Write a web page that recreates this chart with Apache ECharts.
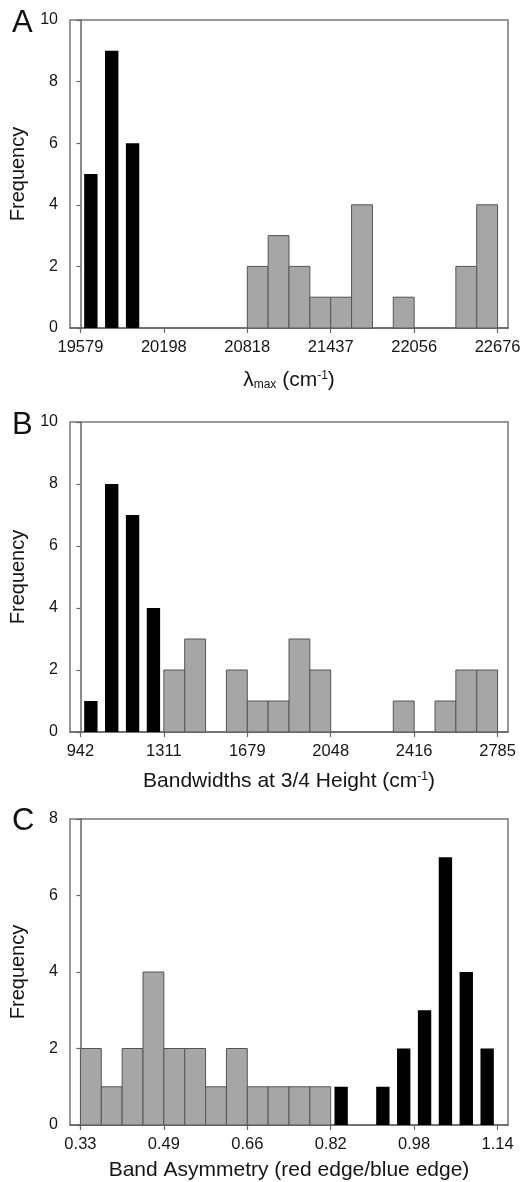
<!DOCTYPE html>
<html>
<head>
<meta charset="utf-8">
<script src="https://cdn.jsdelivr.net/npm/echarts@6/dist/echarts.min.js"></script>
<style>html,body{margin:0;padding:0;background:#fff}#c{width:528px;height:1182px}</style>
</head>
<body>
<div id="c"></div>
<script>
// Bin index 0..19 (20 bins per panel, 4 bins between labelled ticks)
var binsA = [0,1,2,3,4,5,6,7,8,9,10,11,12,13,14,15,16,17,18,19];
var darkA = [5,9,6,0,0,0,0,0,0,0,0,0,0,0,0,0,0,0,0,0];
var greyA = [0,0,0,0,0,0,0,0,2,3,2,1,1,4,0,1,0,0,2,4];
var ticksA = ['19579','20198','20818','21437','22056','22676'];

var darkB = [1,8,7,4,0,0,0,0,0,0,0,0,0,0,0,0,0,0,0,0];
var greyB = [0,0,0,0,2,3,0,2,1,1,3,2,0,0,0,1,0,1,2,2];
var ticksB = ['942','1311','1679','2048','2416','2785'];

var greyC = [2,1,2,4,2,2,1,2,1,1,1,1,0,0,0,0,0,0,0,0];
var darkC = [0,0,0,0,0,0,0,0,0,0,0,0,1,0,1,2,3,7,4,2];
var ticksC = ['0.33','0.49','0.66','0.82','0.98','1.14'];

var tickPos = [0,4,8,12,16,20];
var FONT = 'Liberation Sans, Arial, sans-serif';

function toData(counts){
  var out = [];
  for (var i = 0; i < counts.length; i++) if (counts[i] > 0) out.push([binsA[i], counts[i]]);
  return out;
}
function barRender(frac, fill, stroke){
  return function(params, api){
    var i = api.value(0), v = api.value(1);
    var off = (1 - frac) / 2;
    var p1 = api.coord([i + off, v]);
    var p2 = api.coord([i + 1 - off, 0]);
    return {
      type: 'rect',
      shape: {x: p1[0], y: p1[1], width: p2[0] - p1[0], height: p2[1] - p1[1]},
      style: {fill: fill, stroke: stroke, lineWidth: stroke ? 1 : 0}
    };
  };
}

var grids = [
  {left: 70, top: 20, width: 438, height: 308},
  {left: 70, top: 422, width: 438, height: 310},
  {left: 70, top: 819, width: 438, height: 309}
];
var tickSets = [ticksA, ticksB, ticksC];
var names = [
  '{n|λ}{sub|max}{n| (cm}{sup|-1}{n|)}',
  '{n|Bandwidths at 3/4 Height (cm}{sup|-1}{n|)}',
  'Band Asymmetry (red edge/blue edge)'
];
var nameGaps = [42, 39, 35];
var ymax = [10, 10, 8];
var TXT = '#151515';

var option = {
  animation: false,
  backgroundColor: '#fff',
  grid: grids.map(function(g){ return Object.assign({show: true, borderColor: '#777', borderWidth: 1.5, backgroundColor: 'transparent'}, g); }),
  xAxis: grids.map(function(g, k){
    return {
      type: 'value', gridIndex: k, min: -0.5, max: 20.5,
      splitLine: {show: false},
      axisLine: {show: true, onZero: false, lineStyle: {color: '#666', width: 1.5}},
      axisTick: {show: true, customValues: tickPos, length: 5, lineStyle: {color: '#666', width: 1.2}},
      axisLabel: {customValues: tickPos, margin: 11, color: TXT, fontFamily: FONT, fontSize: 16.5,
        formatter: function(v){ return tickSets[k][Math.round(v / 4)]; }},
      name: names[k], nameLocation: 'middle', nameGap: nameGaps[k],
      nameTextStyle: {color: TXT, fontFamily: FONT, fontSize: 21,
        rich: {
          n: {fontFamily: FONT, fontSize: 21, color: TXT},
          sub: {fontFamily: FONT, fontSize: 12, color: TXT, verticalAlign: 'bottom', padding: [9,0,0,0]},
          sup: {fontFamily: FONT, fontSize: 12, color: TXT, verticalAlign: 'top', padding: [0,0,9,0]}
        }}
    };
  }),
  yAxis: grids.map(function(g, k){
    return {
      type: 'value', gridIndex: k, min: 0, max: ymax[k], interval: 2,
      splitLine: {show: false},
      axisLine: {show: true, lineStyle: {color: '#666', width: 1.5}},
      axisTick: {show: true, length: 4, lineStyle: {color: '#666', width: 1.2}},
      axisLabel: {margin: 12, color: TXT, fontFamily: FONT, fontSize: 16},
      name: 'Frequency', nameLocation: 'middle', nameGap: 42,
      nameTextStyle: {color: TXT, fontFamily: FONT, fontSize: 20}
    };
  }),
  graphic: [
    {type: 'text', left: 12, top: 8, style: {text: 'A', font: '31px Liberation Sans, Arial', fill: '#111'}},
    {type: 'text', left: 12, top: 410, style: {text: 'B', font: '31px Liberation Sans, Arial', fill: '#111'}},
    {type: 'text', left: 12, top: 806, style: {text: 'C', font: '31px Liberation Sans, Arial', fill: '#111'}}
  ],
  series: [
    {type: 'custom', xAxisIndex: 0, yAxisIndex: 0, renderItem: barRender(1, '#a6a6a6', '#555'), data: toData(greyA)},
    {type: 'custom', xAxisIndex: 0, yAxisIndex: 0, renderItem: barRender(0.64, '#000', null), data: toData(darkA)},
    {type: 'custom', xAxisIndex: 1, yAxisIndex: 1, renderItem: barRender(1, '#a6a6a6', '#555'), data: toData(greyB)},
    {type: 'custom', xAxisIndex: 1, yAxisIndex: 1, renderItem: barRender(0.64, '#000', null), data: toData(darkB)},
    {type: 'custom', xAxisIndex: 2, yAxisIndex: 2, renderItem: barRender(1, '#a6a6a6', '#555'), data: toData(greyC)},
    {type: 'custom', xAxisIndex: 2, yAxisIndex: 2, renderItem: barRender(0.64, '#000', null), data: toData(darkC)}
  ]
};
var chart = echarts.init(document.getElementById('c'), null, {renderer: 'canvas'});
chart.setOption(option);
</script>
</body>
</html>
